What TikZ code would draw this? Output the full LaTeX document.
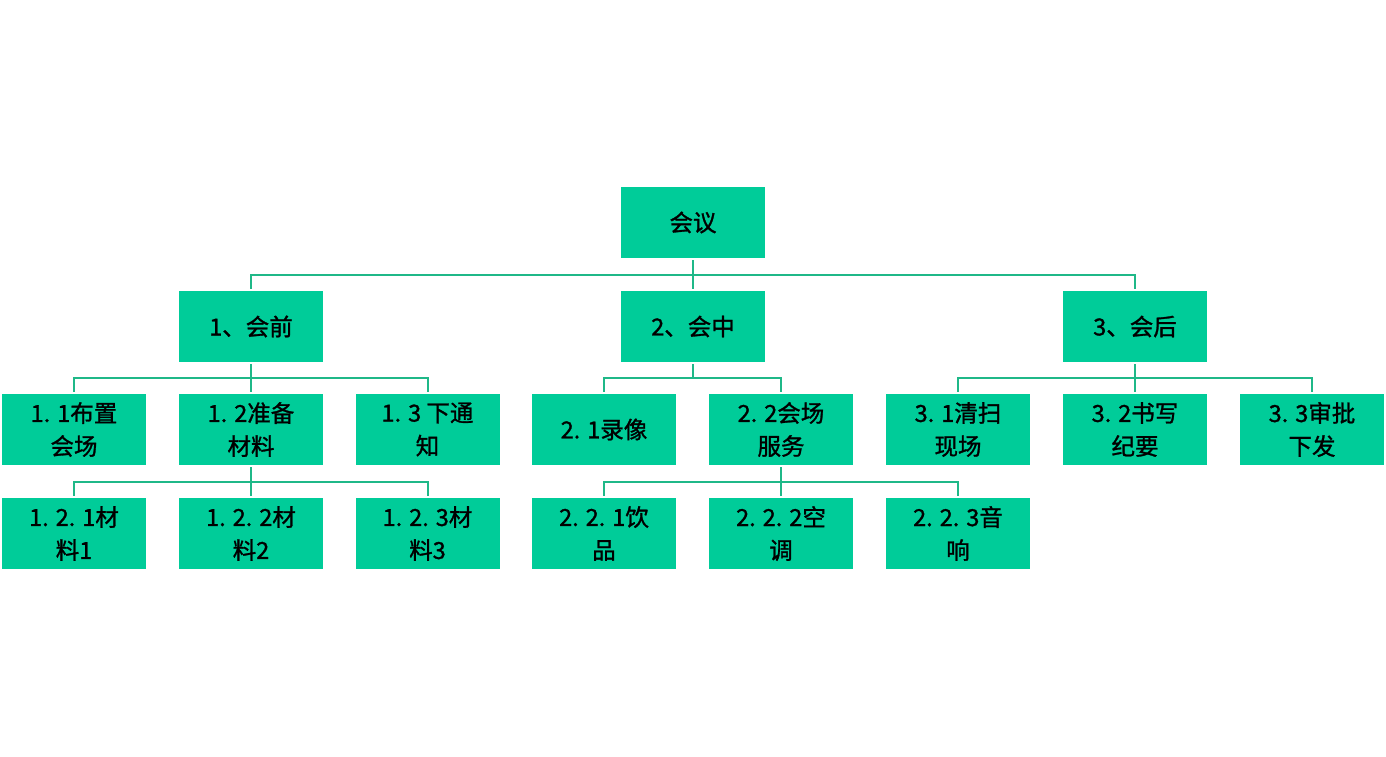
\documentclass[tikz,border=0pt]{standalone}
\usepackage{fontspec}
\setmainfont{Noto Sans CJK SC}[FakeBold=1.2]
\usetikzlibrary{calc}
\definecolor{boxfill}{HTML}{00CC99}
\definecolor{linkcol}{HTML}{1FB888}
\tikzset{
  box/.style={fill=boxfill, minimum width=144pt, minimum height=71pt, inner sep=0pt,
    align=center, font=\fontsize{23.5pt}{33pt}\selectfont, text=black},
  link/.style={draw=linkcol, line width=2pt}
}
\newcommand\linkto[2]{\draw[link] ([yshift=-2pt]#1.south) |- ($([yshift=-2pt]#1.south)!0.5!([yshift=2pt]#2.north)$) -| ([yshift=2pt]#2.north);}
\begin{document}
\begin{tikzpicture}[x=1pt,y=-1pt]
\useasboundingbox (0,0) rectangle (1386,756);
\fill[white] (0,0) rectangle (1386,756);
\node[box] (root) at (693,222.5) {会议};
\node[box] (a) at (251,326.5) {1、会前};
\node[box] (b) at (693,326.5) {2、会中};
\node[box] (c) at (1135,326.5) {3、会后};
\node[box] (a1) at (74,429.5) {1. 1布置\\会场};
\node[box] (a2) at (251,429.5) {1. 2准备\\材料};
\node[box] (a3) at (427.5,429.5) {1. 3 下通\\知};
\node[box] (b1) at (604,429.5) {2. 1录像};
\node[box] (b2) at (781,429.5) {2. 2会场\\服务};
\node[box] (c1) at (958,429.5) {3. 1清扫\\现场};
\node[box] (c2) at (1135,429.5) {3. 2书写\\纪要};
\node[box] (c3) at (1312,429.5) {3. 3审批\\下发};
\node[box] (a21) at (74,533.5) {1. 2. 1材\\料1};
\node[box] (a22) at (251,533.5) {1. 2. 2材\\料2};
\node[box] (a23) at (427.5,533.5) {1. 2. 3材\\料3};
\node[box] (b21) at (604,533.5) {2. 2. 1饮\\品};
\node[box] (b22) at (781,533.5) {2. 2. 2空\\调};
\node[box] (b23) at (958,533.5) {2. 2. 3音\\响};
\linkto{root}{a}\linkto{root}{b}\linkto{root}{c}
\linkto{a}{a1}\linkto{a}{a2}\linkto{a}{a3}
\linkto{b}{b1}\linkto{b}{b2}
\linkto{c}{c1}\linkto{c}{c2}\linkto{c}{c3}
\linkto{a2}{a21}\linkto{a2}{a22}\linkto{a2}{a23}
\linkto{b2}{b21}\linkto{b2}{b22}\linkto{b2}{b23}
\end{tikzpicture}
\end{document}
